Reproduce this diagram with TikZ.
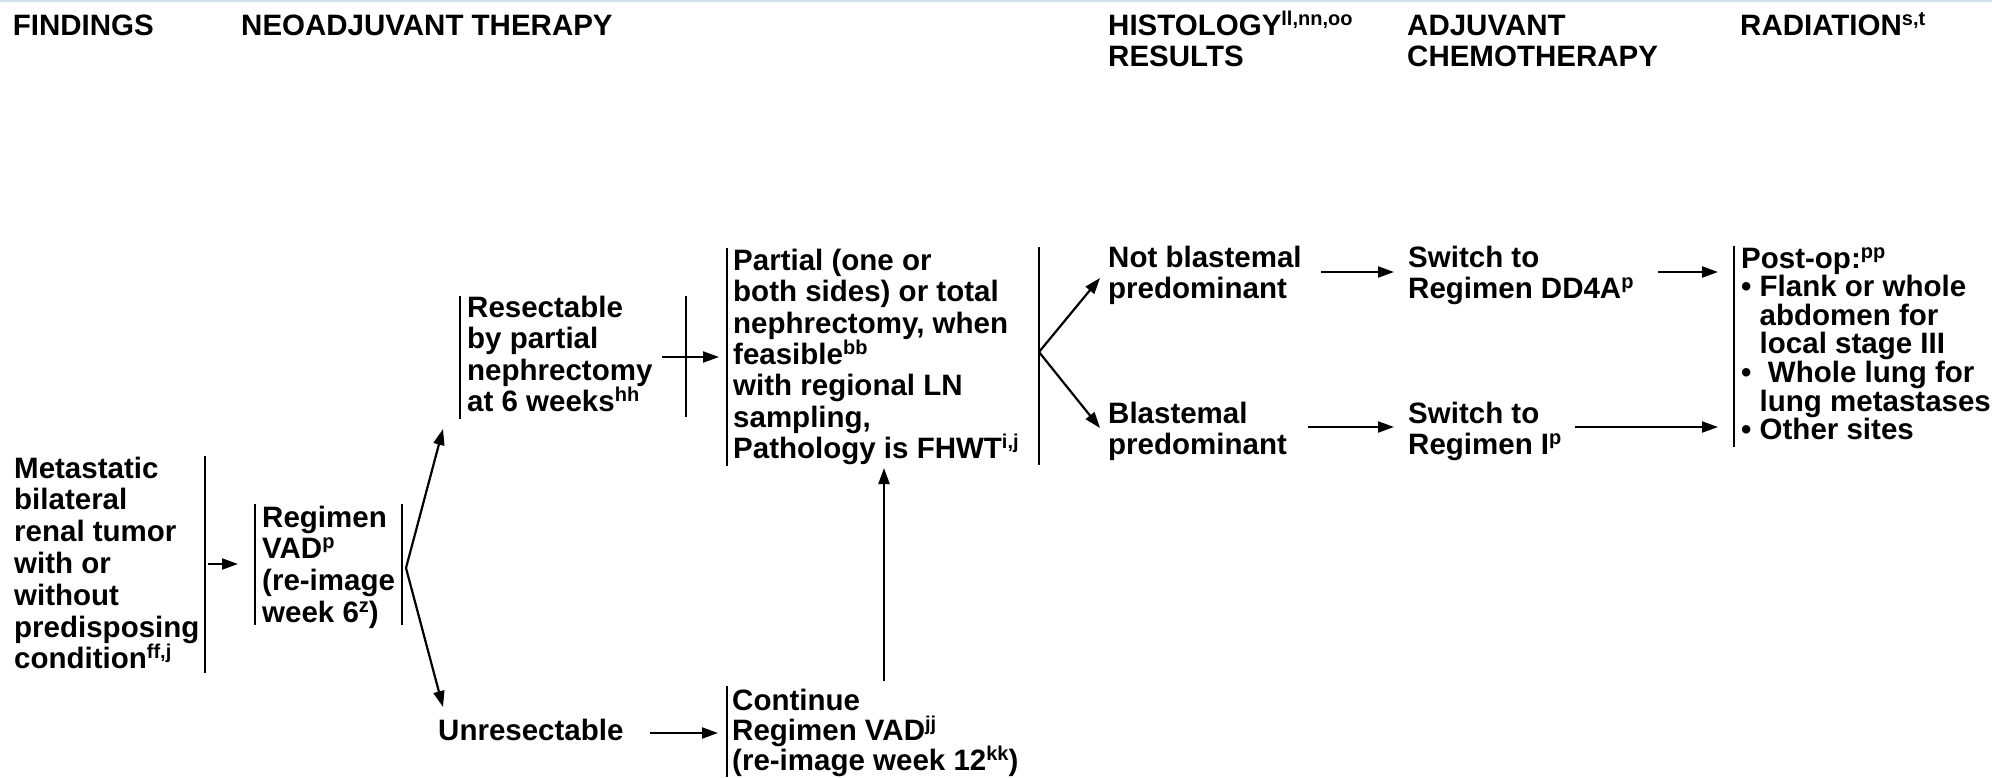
\documentclass[tikz,border=0pt]{standalone}
\usepackage{fontspec}
\setmainfont{Liberation Sans}
\usetikzlibrary{arrows.meta}
% raised note letters that do not widen the line spacing
\newcommand\sps[1]{\smash{\raisebox{10pt}{\fontsize{20}{20}\selectfont #1}}}
% left-aligned block of lines with a fixed baseline pitch; baseline = first line
\newcommand\txt[2]{\vtop{\baselineskip=#1\lineskiplimit=-1000pt\lineskip=0pt\let\\\cr\halign{##\hfil\cr#2\crcr}}}
\begin{document}
\begin{tikzpicture}[x=1pt,y=-1pt,
  every node/.style={font=\fontsize{29.5}{31}\selectfont\bfseries},
  lbl/.style={anchor=base west,inner sep=0pt},
  bar/.style={line width=2.2pt},
  arr/.style={line width=2.2pt,-{Triangle[length=16pt,width=11pt]}}]
\useasboundingbox (0,0) rectangle (1992,777);
\draw[line width=2pt,color={rgb,255:red,204;green,224;blue,238}] (0,1) -- (1992,1);

% column headings
\node[lbl] (hFind) at (12.7,35) {FINDINGS};
\node[lbl] (hNeo)  at (241,35) {NEOADJUVANT THERAPY};
\node[lbl] (hHist) at (1108,35) {\txt{31pt}{HISTOLOGY\sps{ll,nn,oo}\\RESULTS}};
\node[lbl] (hAdj)  at (1407,35) {\txt{31pt}{ADJUVANT\\CHEMOTHERAPY}};
\node[lbl] (hRad)  at (1740,35) {RADIATION\sps{s,t}};

% text blocks
\node[lbl] (find) at (14,478) {\txt{31.8pt}{Metastatic\\bilateral\\renal tumor\\with or\\without\\predisposing\\condition\sps{ff,j}}};
\node[lbl] (vad) at (262,527) {\txt{31.7pt}{Regimen\\VAD\sps{p}\\(re-image\\week 6\sps{z})}};
\node[lbl] (res) at (467,317) {\txt{31.5pt}{Resectable\\by partial\\nephrectomy\\at 6 weeks\sps{hh}}};
\node[lbl] (part) at (733,270.6) {\txt{31.3pt}{Partial (one or\\both sides) or total\\nephrectomy, when\\feasible\sps{bb}\\with regional LN\\sampling,\\Pathology is FHWT\sps{i,j}}};
\node[lbl] (notb) at (1108,267) {\txt{31pt}{Not blastemal\\predominant}};
\node[lbl] (dd4a) at (1408,267) {\txt{31pt}{Switch to\\Regimen DD4A\sps{p}}};
\node[lbl] (blas) at (1108,423) {\txt{31pt}{Blastemal\\predominant}};
\node[lbl] (regi) at (1408,423) {\txt{31pt}{Switch to\\Regimen I\sps{p}}};
\node[lbl] (post) at (1741,268) {\txt{28.6pt}{Post-op:\sps{pp}\\\textbullet{} Flank or whole\\\phantom{\textbullet{} }abdomen for\\\phantom{\textbullet{} }local stage III\\\textbullet{}\ \ Whole lung for\\\phantom{\textbullet{} }lung metastases\\\textbullet{} Other sites}};
\node[lbl] (unres) at (438,740.6) {Unresectable};
\node[lbl] (cont) at (732,710) {\txt{30pt}{Continue\\Regimen VAD\sps{jj}\\(re-image week 12\sps{kk})}};

% bracket bars beside the blocks
\coordinate (findRt) at (205,456); \coordinate (findRb) at (205,673);
\coordinate (vadLt) at (255,504);  \coordinate (vadLb) at (255,625);
\coordinate (vadRt) at (402,504);  \coordinate (vadRb) at (402,625);
\coordinate (resLt) at (460,296);  \coordinate (resLb) at (460,419);
\coordinate (resRt) at (686,296);  \coordinate (resRb) at (686,417);
\coordinate (partLt) at (727,248); \coordinate (partLb) at (727,466);
\coordinate (partRt) at (1039,247);\coordinate (partRb) at (1039,465);
\coordinate (postLt) at (1734,246);\coordinate (postLb) at (1734,447);
\coordinate (contLt) at (727,686); \coordinate (contLb) at (727,777);
\foreach \b in {findR,vadR,vadL,resL,resR,partL,partR,postL,contL}
  \draw[bar] (\b t) -- (\b b);

% junction and end points of the connectors
\coordinate (findOut) at (208,564);  \coordinate (vadIn) at (238,564);
\coordinate (vadFork) at (406,568);
\coordinate (resIn) at (443,429);    \coordinate (unresIn) at (443,707);
\coordinate (resOut) at (662,357);   \coordinate (partIn) at (719,357);
\coordinate (partFork) at (1039,352);
\coordinate (notbIn) at (1100,278);  \coordinate (blasIn) at (1100,428);
\coordinate (notbOut) at (1321,272); \coordinate (dd4aIn) at (1394,272);
\coordinate (blasOut) at (1308,427); \coordinate (regiIn) at (1394,427);
\coordinate (dd4aOut) at (1658,272); \coordinate (postIn1) at (1718,272);
\coordinate (regiOut) at (1575,427); \coordinate (postIn2) at (1718,427);
\coordinate (unresOut) at (650,733); \coordinate (contIn) at (718,733);
\coordinate (contOut) at (884,681);  \coordinate (partBot) at (884,468);

\draw[arr] (findOut) -- (vadIn);
\draw[arr] (vadFork) -- (resIn);
\draw[arr] (vadFork) -- (unresIn);
\draw[arr] (resOut) -- (partIn);
\draw[arr] (partFork) -- (notbIn);
\draw[arr] (partFork) -- (blasIn);
\draw[arr] (notbOut) -- (dd4aIn);
\draw[arr] (blasOut) -- (regiIn);
\draw[arr] (dd4aOut) -- (postIn1);
\draw[arr] (regiOut) -- (postIn2);
\draw[arr] (unresOut) -- (contIn);
\draw[arr] (contOut) -- (partBot);
\end{tikzpicture}
\end{document}
